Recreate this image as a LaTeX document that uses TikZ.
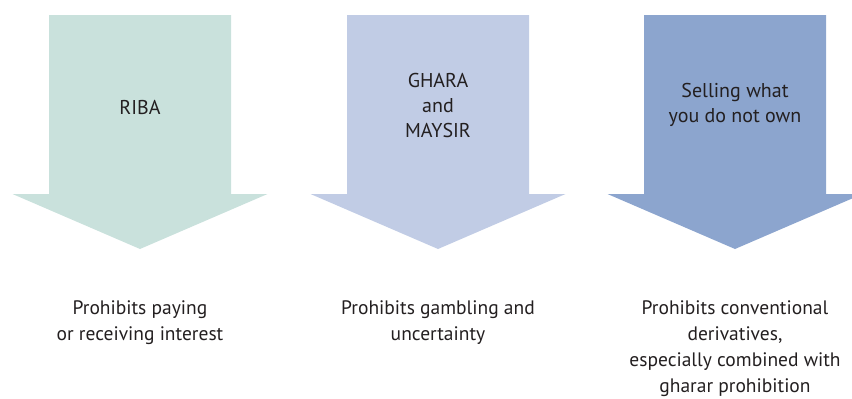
\documentclass[tikz,border=0pt]{standalone}
\usepackage{fontspec}
\setmainfont{PT Sans}
\definecolor{ribacol}{HTML}{C9E1DC}
\definecolor{gharcol}{HTML}{C1CCE5}
\definecolor{sellcol}{HTML}{8CA5CE}
\definecolor{inkcol}{HTML}{231F20}
\tikzset{
	headtext/.style={align=center, text=inkcol, inner sep=0pt, font=\fontsize{20}{25}\selectfont},
	foottext/.style={align=center, text=inkcol, inner sep=0pt, font=\fontsize{19.5}{26}\selectfont}
}

\begin{document}
\begin{tikzpicture}[x=1pt, y=-1pt]
\useasboundingbox (0,0) rectangle (852,399);
	\foreach \c/\col in {140/ribacol,438/gharcol,735/sellcol}
	{
		\fill [\col] (\c-91,15)--(\c+91,15)--(\c+91,194)--(\c+127.5,194)
		--(\c,249)--(\c-127.5,194)--(\c-91,194)--cycle;
	}

\node [headtext] (riba) at (140,107){RIBA};
\node [headtext] (ghara) at (438,105){GHARA\\and\\MAYSIR};
\node [headtext] (selling) at (735,105){Selling what\\you do not own};

\node [foottext] (interest) at (140,322.5){Prohibits paying\\or receiving interest};
\node [foottext] (gambling) at (438,322.5){Prohibits gambling and\\uncertainty};
\node [foottext] (derivatives) at (735,349){Prohibits conventional\\derivatives,\\especially combined with\\gharar prohibition};

\end{tikzpicture}
\end{document}
